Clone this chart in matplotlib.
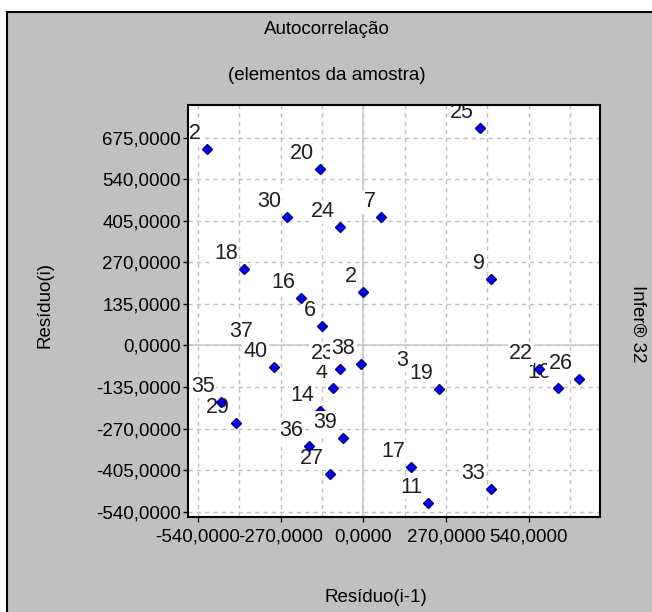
import matplotlib
matplotlib.use("Agg")
import matplotlib.pyplot as plt
from matplotlib.patches import Rectangle
from matplotlib.ticker import FuncFormatter, MultipleLocator
from matplotlib.transforms import ScaledTranslation

plt.rcParams["font.family"] = ["Liberation Sans", "DejaVu Sans"]

# elementos da amostra, na ordem em que o programa os desenha
labels = ["2", "3", "4", "6", "7", "9", "10", "11", "12", "14", "16", "17", "18", "19", "20",
          "22", "23", "24", "25", "26", "27", "29", "30", "33", "35", "36", "37", "38", "39", "40"]
res_prev = [-2, 166, -98, -136, 59, 416, 634, 212, -509, -141, -204, 156, -389, 246, -141,
            573, -75, -75, 381, 702, -109, -417, -250, 416, -464, -176, -340, -7, -65, -293]
res_curr = [174, -99, -139, 63, 416, 215, -137, -512, 638, -212, 153, -395, 247, -142, 572,
            -77, -77, 384, 707, -110, -417, -251, 416, -467, -183, -326, -4, -60, -300, -71]

x_ticks = [-540, -270, 0, 270, 540]
y_ticks = [-540, -405, -270, -135, 0, 135, 270, 405, 540, 675]


def fmt(v, pos=None):
    return f"{v:.4f}".replace(".", ",")


fig = plt.figure(figsize=(6.52, 6.12), dpi=100)
fig.patch.set_facecolor("white")
fig.add_artist(Rectangle((7 / 652, -0.01), 1.0, 1 - 12 / 612 + 0.01, transform=fig.transFigure,
                         facecolor="#c0c0c0", edgecolor="black", linewidth=1.5, zorder=0))

ax = fig.add_axes([188 / 652, 1 - 517 / 612, 412 / 652, 412 / 612])
ax.set_facecolor("white")
ax.set_xlim(-572, 772)
ax.set_ylim(-557, 781)

ax.set_xticks(x_ticks)
ax.xaxis.set_minor_locator(MultipleLocator(135))
ax.set_yticks(y_ticks)
ax.xaxis.set_major_formatter(FuncFormatter(fmt))
ax.yaxis.set_major_formatter(FuncFormatter(fmt))
ax.tick_params(axis="both", which="major", direction="out", length=3.5, width=1,
               labelsize=13.5, colors="black")
ax.tick_params(axis="y", pad=1.5)
ax.tick_params(axis="x", pad=4.5)
ax.tick_params(axis="x", which="minor", length=0)

ax.grid(True, which="both", axis="x", linestyle=(0, (3, 3)), color="#c0c0c0", linewidth=1)
ax.grid(True, which="major", axis="y", linestyle=(0, (3, 3)), color="#c0c0c0", linewidth=1)
ax.axhline(0, color="#c8c8c8", linewidth=1.2, zorder=1.5)
ax.axvline(0, color="#c8c8c8", linewidth=1.2, zorder=1.5)
ax.set_axisbelow(True)
for sp in ax.spines.values():
    sp.set_linewidth(1.5)
    sp.set_color("black")
    sp.set_zorder(200)

offset = ax.transData + ScaledTranslation(-4.3 / 72, 7.2 / 72, fig.dpi_scale_trans)
for i, (lab, x, y) in enumerate(zip(labels, res_prev, res_curr)):
    ax.plot([x], [y], "D", ms=5, mfc="#0000ff", mec="#000070", mew=1, zorder=3 + 2 * i)
    ax.text(x, y, lab, transform=offset, ha="right", va="baseline", fontsize=15.5,
            color="#202020", clip_on=True, zorder=4 + 2 * i,
            bbox=dict(facecolor="white", edgecolor="none", pad=1.0))

fig.text(327 / 652, 1 - 30 / 612, "Autocorrelação", ha="center", va="center", fontsize=13.5)
fig.text(327 / 652, 1 - 76 / 612, "(elementos da amostra)", ha="center", va="center",
         fontsize=13.5)
fig.text(376 / 652, 1 - 597 / 612, "Resíduo(i-1)", ha="center", va="center", fontsize=13.5)
fig.text(45 / 652, 1 - 305 / 612, "Resíduo(i)", ha="center", va="center", rotation=90,
         fontsize=13.5)
fig.text(638 / 652, 1 - 324 / 612, "Infer® 32", ha="center", va="center", rotation=270,
         fontsize=13.5)

fig.savefig("out.png", dpi=100)
